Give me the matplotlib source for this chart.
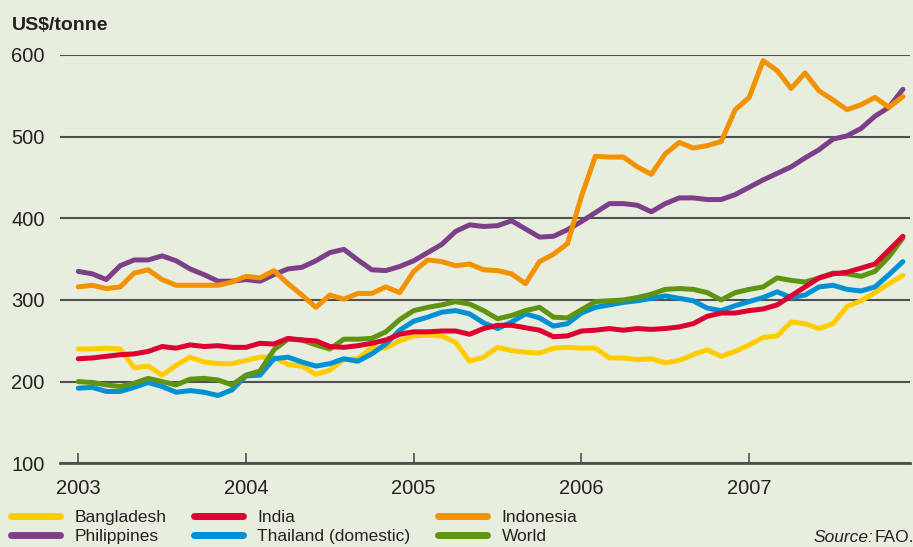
import numpy as np
import matplotlib.pyplot as plt

# monthly rice prices, Jan 2003 - Dec 2007 (US$/tonne)
months = np.arange(60)
years = 2003 + months / 12.0

bangladesh = [240, 240, 241, 240, 217, 219, 208, 220, 230, 224, 222, 222,
              226, 230, 230, 221, 219, 209, 214, 227, 228, 242, 241, 250,
              256, 257, 256, 248, 225, 230, 242, 238, 236, 235, 241, 242,
              241, 241, 229, 229, 227, 228, 223, 226, 233, 239, 231, 237,
              245, 254, 256, 273, 271, 265, 271, 292, 299, 309, 320, 330]
india = [228, 229, 231, 233, 234, 237, 243, 241, 245, 243, 244, 242,
         242, 247, 246, 253, 251, 250, 243, 242, 244, 247, 251, 258,
         261, 261, 262, 262, 258, 265, 269, 269, 266, 263, 255, 256,
         262, 263, 265, 263, 265, 264, 265, 267, 271, 280, 284, 284,
         287, 289, 294, 305, 316, 327, 332, 334, 339, 344, 361, 378]
indonesia = [316, 318, 314, 316, 333, 337, 325, 318, 318, 318, 318, 322,
             329, 327, 336, 320, 306, 291, 306, 301, 308, 308, 316, 309,
             335, 349, 347, 342, 344, 337, 336, 332, 320, 347, 356, 369,
             427, 476, 475, 475, 463, 454, 479, 493, 486, 489, 494, 533,
             548, 593, 581, 559, 578, 556, 545, 533, 539, 548, 536, 549]
philippines = [335, 332, 325, 342, 349, 349, 354, 348, 338, 331, 323, 323,
               325, 323, 331, 338, 340, 348, 358, 362, 349, 337, 336, 341,
               348, 358, 368, 384, 392, 390, 391, 397, 387, 377, 378, 386,
               396, 407, 418, 418, 416, 408, 418, 425, 425, 423, 423, 429,
               438, 447, 455, 463, 474, 484, 497, 501, 510, 525, 536, 558]
thailand = [192, 193, 188, 188, 193, 199, 194, 187, 189, 187, 183, 190,
            207, 208, 228, 230, 224, 219, 222, 228, 225, 234, 246, 263,
            274, 279, 285, 287, 283, 272, 265, 273, 283, 278, 268, 271,
            284, 291, 294, 297, 299, 302, 305, 302, 299, 290, 287, 293,
            298, 303, 310, 303, 306, 316, 318, 313, 311, 316, 331, 347]
world = [200, 199, 196, 194, 198, 204, 200, 196, 203, 204, 202, 196,
         208, 213, 239, 252, 251, 245, 240, 252, 252, 253, 261, 276,
         287, 291, 294, 298, 295, 287, 277, 281, 287, 291, 279, 278,
         288, 298, 299, 300, 303, 307, 313, 314, 313, 309, 300, 309,
         313, 316, 327, 324, 322, 327, 333, 332, 329, 335, 353, 376]

year_ticks = [2003, 2004, 2005, 2006, 2007]
y_ticks = [100, 200, 300, 400, 500, 600]

bg = '#e7eede'
grid_col = '#505050'
text_col = '#222222'
plt.rcParams['font.family'] = ['Liberation Sans', 'DejaVu Sans']

fig = plt.figure(figsize=(9.13, 5.47), dpi=100)
fig.patch.set_facecolor(bg)
ax = fig.add_axes([60 / 913, 83.7 / 547, 850 / 913, 408.3 / 547])
ax.set_facecolor(bg)

series = [
    ('Bangladesh', bangladesh, '#ffcc00'),
    ('Philippines', philippines, '#7e3f8a'),
    ('India', india, '#dd0031'),
    ('Thailand (domestic)', thailand, '#0091d5'),
    ('Indonesia', indonesia, '#f39200'),
    ('World', world, '#5e9412'),
]
lines = {}
draw_order = ['Bangladesh', 'Thailand (domestic)', 'World', 'India', 'Philippines', 'Indonesia']
lookup = {name: (vals, col) for name, vals, col in series}
for name in draw_order:
    vals, col = lookup[name]
    lines[name], = ax.plot(years, vals, color=col, lw=3.6, solid_capstyle='round',
                           solid_joinstyle='round', label=name)

ax.set_xlim(2002.891, 2007.959)
ax.set_ylim(100, 600)
for s in ['top', 'right', 'left']:
    ax.spines[s].set_visible(False)
ax.spines['bottom'].set_color(grid_col)
ax.spines['bottom'].set_linewidth(2)

ax.set_yticks(y_ticks)
ax.yaxis.grid(True, color=grid_col, lw=1.5)
ax.set_axisbelow(True)
ax.tick_params(axis='y', length=0, pad=11, labelsize=14.5, labelcolor=text_col)
ax.set_xticks(year_ticks)
ax.set_xticklabels([str(y) for y in year_ticks])
ax.tick_params(axis='x', direction='in', length=7, width=1.2, color=grid_col,
               pad=11, labelsize=14.5, labelcolor=text_col)

fig.text(12 / 913, 1 - 25 / 547, 'US$/tonne', fontsize=14, fontweight='bold',
         color=text_col, va='center', ha='left')

# legend in two rows, three columns
handles = [lines[n] for n, _, _ in series]
leg = fig.legend(handles, [n for n, _, _ in series], ncol=3, loc='upper left',
                 bbox_to_anchor=(4 / 913, 1 - 503 / 547), frameon=False,
                 fontsize=12.5, handlelength=2.8, handletextpad=0.85,
                 columnspacing=1.6, labelspacing=0.2, borderaxespad=0)
for t in leg.get_texts():
    t.set_color(text_col)
for h in leg.legend_handles:
    h.set_linewidth(5)

fig.text(873 / 913, 1 - 538 / 547, 'Source:', fontsize=12.5, style='italic',
         color=text_col, ha='right', va='center')
fig.text(875 / 913, 1 - 538 / 547, 'FAO.', fontsize=12.5, color=text_col,
         ha='left', va='center')

fig.savefig('out.png', dpi=100, facecolor=bg)
